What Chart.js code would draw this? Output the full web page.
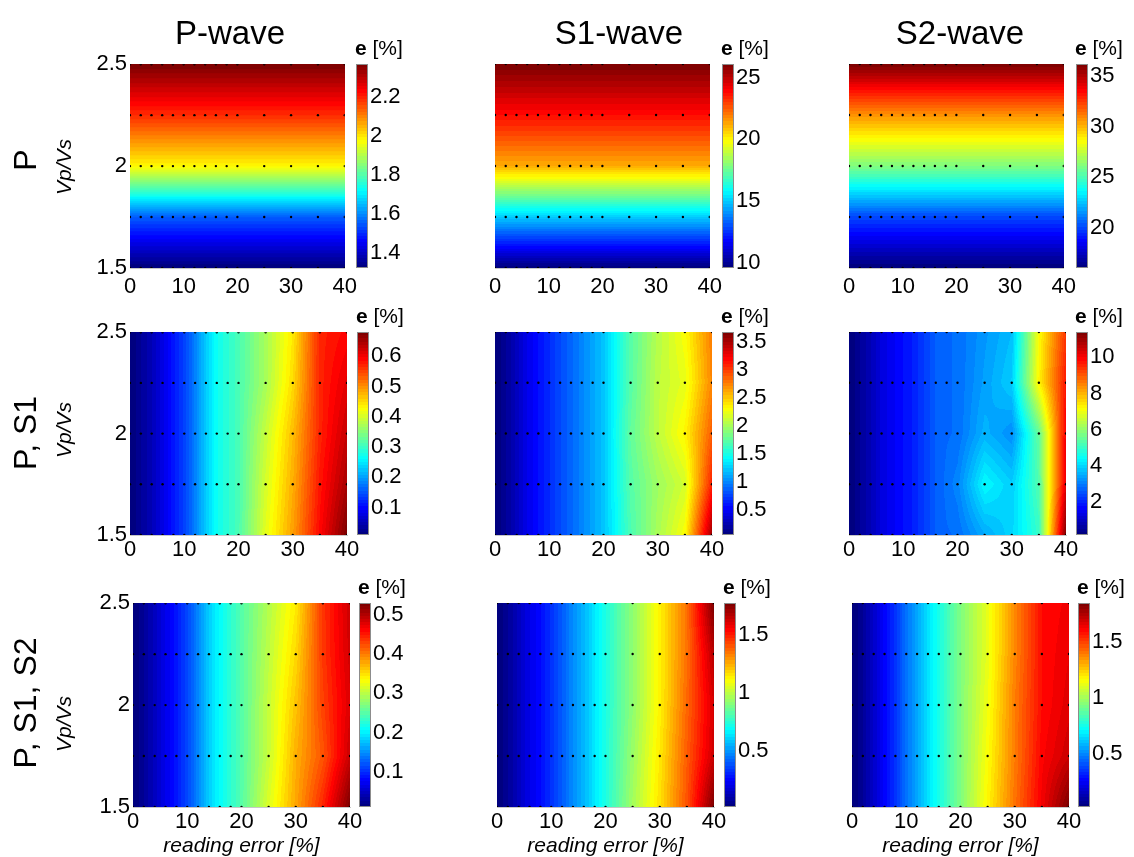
<!DOCTYPE html>
<html>
<head>
<meta charset="utf-8">
<script src="https://cdn.jsdelivr.net/npm/chart.js@4.4.1/dist/chart.umd.min.js"></script>
<style>
body { margin: 0; background: #fff; }
#fig { position: relative; width: 1134px; height: 857px; overflow: hidden;
       font-family: 'Liberation Sans', Arial, sans-serif; color: #000; }
#fig canvas { position: absolute; }
.txt { position: absolute; white-space: nowrap; line-height: 1; }
.rot { transform: translate(-50%, -50%) rotate(-90deg); }
</style>
</head>
<body>
<div id="fig"></div>
<script>
// sampling grid
var readingError = [0, 2, 4, 6, 8, 10, 12, 14, 16, 18, 20, 25, 30, 35, 40];
var vpvs = [1.5, 1.75, 2, 2.25, 2.5];
var xTicks = [0, 10, 20, 30, 40];
var yTicks = [1.5, 2, 2.5];

var waves = ['P-wave', 'S1-wave', 'S2-wave'];
var combos = ['P', 'P, S1', 'P, S1, S2'];

// e [%], one row per Vp/Vs (1.5 -> 2.5), one column per reading error
var p_Pwave = [
    [1.32, 1.32, 1.32, 1.32, 1.32, 1.32, 1.32, 1.32, 1.32, 1.32, 1.32, 1.32, 1.32, 1.32, 1.32],
    [1.55, 1.55, 1.55, 1.55, 1.55, 1.55, 1.55, 1.55, 1.55, 1.55, 1.55, 1.55, 1.55, 1.55, 1.55],
    [1.98, 1.98, 1.98, 1.98, 1.98, 1.98, 1.98, 1.98, 1.98, 1.98, 1.98, 1.98, 1.98, 1.98, 1.98],
    [2.19, 2.19, 2.19, 2.19, 2.19, 2.19, 2.19, 2.19, 2.19, 2.19, 2.19, 2.19, 2.19, 2.19, 2.19],
    [2.37, 2.37, 2.37, 2.37, 2.37, 2.37, 2.37, 2.37, 2.37, 2.37, 2.37, 2.37, 2.37, 2.37, 2.37]
];
var p_S1wave = [
    [9.6, 9.6, 9.6, 9.6, 9.6, 9.6, 9.6, 9.6, 9.6, 9.6, 9.6, 9.6, 9.6, 9.6, 9.6],
    [15.0, 15.0, 15.0, 15.0, 15.0, 15.0, 15.0, 15.0, 15.0, 15.0, 15.0, 15.0, 15.0, 15.0, 15.0],
    [21.2, 21.2, 21.2, 21.2, 21.2, 21.2, 21.2, 21.2, 21.2, 21.2, 21.2, 21.2, 21.2, 21.2, 21.2],
    [23.8, 23.8, 23.8, 23.8, 23.8, 23.8, 23.8, 23.8, 23.8, 23.8, 23.8, 23.8, 23.8, 23.8, 23.8],
    [26.1, 26.1, 26.1, 26.1, 26.1, 26.1, 26.1, 26.1, 26.1, 26.1, 26.1, 26.1, 26.1, 26.1, 26.1]
];
var p_S2wave = [
    [16.0, 16.0, 16.0, 16.0, 16.0, 16.0, 16.0, 16.0, 16.0, 16.0, 16.0, 16.0, 16.0, 16.0, 16.0],
    [20.0, 20.0, 20.0, 20.0, 20.0, 20.0, 20.0, 20.0, 20.0, 20.0, 20.0, 20.0, 20.0, 20.0, 20.0],
    [26.1, 26.1, 26.1, 26.1, 26.1, 26.1, 26.1, 26.1, 26.1, 26.1, 26.1, 26.1, 26.1, 26.1, 26.1],
    [30.7, 30.7, 30.7, 30.7, 30.7, 30.7, 30.7, 30.7, 30.7, 30.7, 30.7, 30.7, 30.7, 30.7, 30.7],
    [36.2, 36.2, 36.2, 36.2, 36.2, 36.2, 36.2, 36.2, 36.2, 36.2, 36.2, 36.2, 36.2, 36.2, 36.2]
];

var ps1_Pwave = [
    [0.01, 0.03, 0.05, 0.08, 0.11, 0.14, 0.18, 0.23, 0.27, 0.29, 0.31, 0.41, 0.49, 0.59, 0.68],
    [0.01, 0.03, 0.05, 0.08, 0.11, 0.14, 0.18, 0.23, 0.27, 0.29, 0.31, 0.40, 0.48, 0.58, 0.65],
    [0.01, 0.03, 0.05, 0.08, 0.11, 0.14, 0.18, 0.23, 0.27, 0.29, 0.31, 0.39, 0.47, 0.57, 0.63],
    [0.01, 0.03, 0.05, 0.08, 0.11, 0.14, 0.18, 0.23, 0.27, 0.29, 0.31, 0.37, 0.45, 0.57, 0.61],
    [0.01, 0.03, 0.05, 0.08, 0.11, 0.14, 0.18, 0.23, 0.27, 0.29, 0.31, 0.37, 0.44, 0.57, 0.59]
];
var ps1_S1wave = [
    [0.05, 0.16, 0.30, 0.45, 0.56, 0.67, 0.78, 0.88, 0.99, 1.10, 1.21, 1.68, 2.01, 2.30, 3.55],
    [0.05, 0.16, 0.30, 0.45, 0.56, 0.67, 0.78, 0.88, 0.99, 1.10, 1.21, 1.72, 1.97, 2.16, 3.10],
    [0.05, 0.16, 0.30, 0.45, 0.56, 0.67, 0.78, 0.88, 0.99, 1.10, 1.21, 1.76, 2.08, 2.34, 2.88],
    [0.05, 0.16, 0.30, 0.45, 0.56, 0.67, 0.78, 0.88, 0.99, 1.10, 1.21, 1.72, 2.08, 2.23, 2.74],
    [0.05, 0.16, 0.30, 0.45, 0.56, 0.67, 0.78, 0.88, 0.99, 1.10, 1.21, 1.72, 2.05, 2.30, 2.77]
];
var ps1_S2wave = [
    [0.20, 0.54, 0.87, 1.32, 1.54, 1.77, 1.99, 2.33, 2.66, 2.80, 2.85, 3.50, 4.00, 5.00, 11.4],
    [0.20, 0.54, 0.87, 1.32, 1.54, 1.77, 1.99, 2.33, 2.66, 2.89, 3.10, 4.40, 3.90, 5.30, 10.28],
    [0.20, 0.54, 0.87, 1.32, 1.54, 1.77, 1.99, 2.33, 2.66, 2.80, 2.85, 3.60, 3.20, 5.50, 10.06],
    [0.20, 0.54, 0.87, 1.32, 1.54, 1.77, 1.99, 2.33, 2.66, 2.80, 2.85, 3.40, 3.90, 7.26, 9.72],
    [0.20, 0.54, 0.87, 1.32, 1.54, 1.77, 1.99, 2.33, 2.66, 2.80, 2.85, 3.30, 3.70, 7.14, 9.38]
];

var ps1s2_Pwave = [
    [0.01, 0.026, 0.046, 0.067, 0.088, 0.114, 0.145, 0.182, 0.208, 0.228, 0.249, 0.317, 0.379, 0.445, 0.53],
    [0.01, 0.026, 0.046, 0.067, 0.088, 0.114, 0.145, 0.182, 0.208, 0.228, 0.249, 0.306, 0.374, 0.420, 0.49],
    [0.01, 0.026, 0.046, 0.067, 0.088, 0.114, 0.145, 0.182, 0.208, 0.228, 0.249, 0.306, 0.364, 0.430, 0.48],
    [0.01, 0.026, 0.046, 0.067, 0.088, 0.114, 0.145, 0.182, 0.208, 0.228, 0.249, 0.301, 0.353, 0.435, 0.485],
    [0.01, 0.026, 0.046, 0.067, 0.088, 0.114, 0.145, 0.182, 0.208, 0.228, 0.249, 0.296, 0.343, 0.436, 0.488]
];
var ps1s2_S1wave = [
    [0.02, 0.072, 0.141, 0.21, 0.262, 0.331, 0.401, 0.487, 0.556, 0.643, 0.729, 0.954, 1.162, 1.404, 1.77],
    [0.02, 0.072, 0.141, 0.21, 0.262, 0.331, 0.401, 0.487, 0.556, 0.643, 0.729, 0.937, 1.145, 1.387, 1.63],
    [0.02, 0.072, 0.141, 0.21, 0.262, 0.331, 0.401, 0.487, 0.556, 0.643, 0.729, 0.920, 1.127, 1.369, 1.61],
    [0.02, 0.072, 0.141, 0.21, 0.262, 0.331, 0.401, 0.487, 0.556, 0.643, 0.729, 0.920, 1.127, 1.352, 1.664],
    [0.02, 0.072, 0.141, 0.21, 0.262, 0.331, 0.401, 0.487, 0.556, 0.643, 0.729, 0.920, 1.127, 1.352, 1.77]
];
var ps1s2_S2wave = [
    [0.03, 0.085, 0.176, 0.267, 0.358, 0.467, 0.558, 0.667, 0.758, 0.849, 0.94, 1.177, 1.413, 1.632, 1.85],
    [0.03, 0.085, 0.176, 0.267, 0.358, 0.467, 0.558, 0.667, 0.758, 0.849, 0.94, 1.158, 1.395, 1.613, 1.704],
    [0.03, 0.085, 0.176, 0.267, 0.358, 0.467, 0.558, 0.667, 0.758, 0.849, 0.94, 1.140, 1.395, 1.595, 1.668],
    [0.03, 0.085, 0.176, 0.267, 0.358, 0.467, 0.558, 0.667, 0.758, 0.849, 0.94, 1.122, 1.377, 1.595, 1.65],
    [0.03, 0.085, 0.176, 0.267, 0.358, 0.467, 0.558, 0.667, 0.758, 0.849, 0.94, 1.122, 1.377, 1.595, 1.632]
];

var grids = [
    [p_Pwave, p_S1wave, p_S2wave],
    [ps1_Pwave, ps1_S1wave, ps1_S2wave],
    [ps1s2_Pwave, ps1s2_S1wave, ps1s2_S2wave]
];

// colour bar limits and ticks
var cbMin = [[1.32, 9.6, 16.0], [0.01, 0.05, 0.2], [0.01, 0.02, 0.03]];
var cbMax = [[2.37, 26.1, 36.2], [0.68, 3.68, 11.4], [0.53, 1.77, 1.85]];
var cbTicks = [
    [[1.4, 1.6, 1.8, 2, 2.2], [10, 15, 20, 25], [20, 25, 30, 35]],
    [[0.1, 0.2, 0.3, 0.4, 0.5, 0.6], [0.5, 1, 1.5, 2, 2.5, 3, 3.5], [2, 4, 6, 8, 10]],
    [[0.1, 0.2, 0.3, 0.4, 0.5], [0.5, 1, 1.5], [0.5, 1, 1.5]]
];

// layout (pixels)
var rowTop = [64, 332, 603];
var rowH = [204, 203, 204];
var plotLeft = [[130, 495, 849], [130, 495, 849], [133, 497, 852]];
var plotW = 217;
var barLeft = [[356, 722, 1076], [357, 722, 1076], [359, 724, 1078]];
var barW = 12;
var xTickPad = [6, 2, 2];
var PAD = 16;
var FONT = "'Liberation Sans', Arial, sans-serif";

var fig = document.getElementById('fig');

function jet(t) {
    t = Math.max(0, Math.min(1, t));
    t = Math.floor(t * 63.999) / 63;
    function c(v) { return Math.round(255 * Math.max(0, Math.min(1, v))); }
    return [c(1.5 - Math.abs(4 * t - 3)), c(1.5 - Math.abs(4 * t - 2)), c(1.5 - Math.abs(4 * t - 1))];
}

function sample(grid, xv, yv) {
    var i = 0, j = 0;
    while (i < readingError.length - 2 && xv > readingError[i + 1]) i++;
    while (j < vpvs.length - 2 && yv > vpvs[j + 1]) j++;
    var tx = (xv - readingError[i]) / (readingError[i + 1] - readingError[i]);
    var ty = (yv - vpvs[j]) / (vpvs[j + 1] - vpvs[j]);
    tx = Math.max(0, Math.min(1, tx));
    ty = Math.max(0, Math.min(1, ty));
    var lo = grid[j][i] * (1 - tx) + grid[j][i + 1] * tx;
    var hi = grid[j + 1][i] * (1 - tx) + grid[j + 1][i + 1] * tx;
    return lo * (1 - ty) + hi * ty;
}

// fills the plot area from the grid through the chart's scales
function heatmap(grid, min, max) {
    return {
        id: 'heatmap',
        beforeDatasetsDraw: function (chart) {
            var a = chart.chartArea, sx = chart.scales.x, sy = chart.scales.y;
            var w = Math.round(a.right - a.left), h = Math.round(a.bottom - a.top);
            var off = document.createElement('canvas');
            off.width = w; off.height = h;
            var octx = off.getContext('2d');
            var img = octx.createImageData(w, h);
            for (var py = 0; py < h; py++) {
                var yv = sy.getValueForPixel(a.top + py + 0.5);
                for (var px = 0; px < w; px++) {
                    var xv = sx.getValueForPixel(a.left + px + 0.5);
                    var col = jet((sample(grid, xv, yv) - min) / (max - min));
                    var k = (py * w + px) * 4;
                    img.data[k] = col[0]; img.data[k + 1] = col[1]; img.data[k + 2] = col[2]; img.data[k + 3] = 255;
                }
            }
            octx.putImageData(img, 0, 0);
            chart.ctx.drawImage(off, a.left, a.top);
        }
    };
}

var colorbar = {
    id: 'colorbar',
    beforeDatasetsDraw: function (chart) {
        var a = chart.chartArea, sy = chart.scales.y, ctx = chart.ctx;
        var min = sy.min, max = sy.max;
        for (var py = Math.floor(a.top); py < Math.ceil(a.bottom); py++) {
            var col = jet((sy.getValueForPixel(py + 0.5) - min) / (max - min));
            ctx.fillStyle = 'rgb(' + col.join(',') + ')';
            ctx.fillRect(a.left, py, a.right - a.left, 1);
        }
        ctx.strokeStyle = '#8c8c8c';
        ctx.lineWidth = 1;
        ctx.strokeRect(a.left + 0.5, a.top + 0.5, a.right - a.left - 1, a.bottom - a.top - 1);
    }
};

function addText(html, css) {
    var d = document.createElement('div');
    d.className = 'txt' + (css.rot ? ' rot' : '');
    d.innerHTML = html;
    d.style.left = css.x + 'px';
    d.style.top = css.y + 'px';
    d.style.fontSize = css.size + 'px';
    if (css.italic) d.style.fontStyle = 'italic';
    if (css.center) d.style.transform = 'translateX(-50%)';
    fig.appendChild(d);
}

function makeCanvas(x, y, w, h) {
    var cv = document.createElement('canvas');
    cv.width = w; cv.height = h;
    cv.style.left = x + 'px'; cv.style.top = y + 'px';
    cv.style.width = w + 'px'; cv.style.height = h + 'px';
    fig.appendChild(cv);
    return cv;
}

var dots = [];
vpvs.forEach(function (y) {
    readingError.forEach(function (x) { dots.push({ x: x, y: y }); });
});

function drawPanel(r, c) {
    var y0 = rowTop[r], h = rowH[r], x0 = plotLeft[r][c];
    var canvas = makeCanvas(x0 - 100, y0 - PAD, 100 + plotW + 16, PAD + h + 50);

    new Chart(canvas, {
        type: 'scatter',
        data: {
            datasets: [{
                data: dots,
                pointRadius: 1.2,
                pointBackgroundColor: '#000',
                pointBorderWidth: 0,
            }]
        },
        options: {
            responsive: false,
            animation: false,
            events: [],
            layout: { padding: { top: PAD, right: 16, left: 0, bottom: 0 } },
            scales: {
                x: {
                    type: 'linear', min: 0, max: 40,
                    afterBuildTicks: function (s) { s.ticks = xTicks.map(function (v) { return { value: v }; }); },
                    afterFit: function (s) { s.height = 50; },
                    grid: { display: false, drawTicks: false },
                    border: { color: '#c8c8c8' },
                    ticks: {
                        color: '#000', padding: xTickPad[r], maxRotation: 0, autoSkip: false,
                        font: { family: FONT, size: 22 },
                        callback: function (v) { return String(v); }
                    },
                    title: {
                        display: r === 2, text: 'reading error [%]', color: '#000',
                        font: { family: FONT, size: 21, style: 'italic', lineHeight: 1 },
                        padding: { top: 0, bottom: 0 }
                    }
                },
                y: {
                    type: 'linear', min: 1.5, max: 2.5,
                    afterBuildTicks: function (s) { s.ticks = yTicks.map(function (v) { return { value: v }; }); },
                    afterFit: function (s) { s.width = 100; },
                    grid: { display: false, drawTicks: false },
                    border: { color: '#c8c8c8' },
                    ticks: {
                        display: c === 0, color: '#000', padding: 3,
                        font: { family: FONT, size: 22 },
                        callback: function (v) { return String(v); }
                    }
                }
            },
            plugins: { legend: { display: false }, tooltip: { enabled: false } }
        },
        plugins: [heatmap(grids[r][c], cbMin[r][c], cbMax[r][c])]
    });

    // colour bar
    var bc = makeCanvas(barLeft[r][c], y0 - PAD, barW + 50, h + 2 * PAD);
    var ticks = cbTicks[r][c];
    new Chart(bc, {
        type: 'scatter',
        data: { datasets: [] },
        options: {
            responsive: false,
            animation: false,
            events: [],
            layout: { padding: { top: PAD, bottom: PAD, left: 0, right: 0 } },
            scales: {
                x: { display: false, min: 0, max: 1 },
                y: {
                    type: 'linear', position: 'right',
                    min: cbMin[r][c], max: cbMax[r][c],
                    afterBuildTicks: function (s) { s.ticks = ticks.map(function (v) { return { value: v }; }); },
                    afterFit: function (s) { s.width = 50; },
                    grid: { display: false, drawTicks: false },
                    border: { display: false },
                    ticks: {
                        color: '#000', padding: 2,
                        font: { family: FONT, size: 22 },
                        callback: function (v) { return String(v); }
                    }
                }
            },
            plugins: { legend: { display: false }, tooltip: { enabled: false } }
        },
        plugins: [colorbar]
    });

    addText('<b>e</b> [%]', { x: barLeft[r][c] - 1, y: y0 - 9 - 18, size: 21 });
}

for (var r = 0; r < 3; r++) {
    for (var c = 0; c < 3; c++) drawPanel(r, c);
}

// column titles
var titleX = [230, 619, 960];
waves.forEach(function (t, i) {
    addText(t, { x: titleX[i], y: 44 - 28, size: 33, center: true });
});

// row labels
var rowLabelY = [160, 433, 703];
var vpvsY = [167, 430, 724];
combos.forEach(function (t, i) {
    addText(t, { x: 25, y: rowLabelY[i], size: 32, rot: true });
    addText('Vp/Vs', { x: 63, y: vpvsY[i], size: 21, rot: true, italic: true });
});
</script>
</body>
</html>
